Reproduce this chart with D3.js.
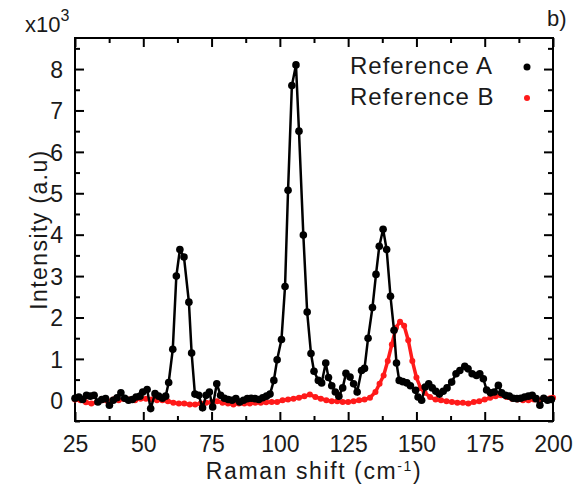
<!DOCTYPE html>
<html>
<head>
<meta charset="utf-8">
<script src="https://cdn.jsdelivr.net/npm/d3@7"></script>
<style>
  body { margin: 0; background: #fff; }
  text { font-family: Arial, "Liberation Sans", sans-serif; fill: #1a1a1a; }
</style>
</head>
<body>
<div id="chart"></div>
<script>
// *******************
// raman spectra, reference A vs reference B
// *******************

// raman shift (cm-1) and intensity (x10^3)
const refAShift = [
  25.0, 26.4, 27.8, 29.2, 30.6, 32.0, 33.4, 34.8, 36.2, 37.6, 39.0, 40.4, 41.8,
  43.2, 44.6, 46.0, 47.4, 48.8, 49.8, 51.4, 52.7, 54.3, 55.6, 57.0, 58.2, 59.3,
  60.8, 62.1, 63.4, 64.9, 66.7, 67.7, 68.9, 70.3, 71.7, 73.0, 74.2, 75.4, 76.9,
  78.3, 79.7, 81.1, 82.5, 83.9, 85.3, 86.7, 88.1, 89.5, 90.9, 92.3, 93.7, 95.1,
  96.4, 97.8, 99.0, 100.6, 101.9, 103.0, 104.4, 105.9, 107.0, 108.6, 110.0,
  111.4, 112.5, 114.1, 115.3, 116.8, 117.8, 119.0, 120.3, 121.6, 123.0, 124.2,
  125.7, 127.0, 128.3, 129.9, 131.0, 132.3, 133.9, 135.2, 136.4, 137.8, 139.1,
  140.5, 141.8, 142.7, 143.7, 145.0, 146.5, 147.8, 149.7, 150.6, 151.9, 153.2,
  154.5, 155.8, 157.1, 158.4, 159.8, 161.2, 162.9, 164.5, 165.9, 167.7, 168.9,
  170.4, 172.0, 173.2, 174.5, 175.7, 177.1, 178.5, 180.0, 181.2, 182.6, 184.0,
  185.4, 186.8, 188.2, 189.6, 191.0, 192.4, 193.8, 195.2, 196.6, 198.0, 199.4
];
const refAIntensity = [
  0.05, 0.08, 0.02, 0.12, 0.10, 0.12, -0.04, 0.02, 0.04, -0.12, 0.00, 0.06, 0.18,
  0.05, 0.00, 0.02, 0.08, 0.10, 0.20, 0.26, -0.20, 0.16, 0.10, 0.05, 0.10, 0.43,
  1.23, 3.00, 3.64, 3.46, 2.37, 1.14, 0.15, 0.12, -0.18, 0.12, 0.20, -0.16, 0.40,
  0.12, 0.05, 0.02, 0.00, 0.04, -0.04, 0.00, 0.04, 0.05, 0.04, 0.02, 0.06, 0.10,
  0.15, 0.48, 0.98, 1.47, 2.75, 5.07, 7.60, 8.10, 6.50, 3.99, 2.13,
  1.13, 0.70, 0.48, 0.42, 0.90, 0.55, 0.35, 0.20, 0.10, 0.30, 0.65,
  0.56, 0.40, 0.20, 0.72, 0.77, 1.50, 2.24, 3.04, 3.72, 4.13, 3.64,
  2.51, 1.69, 0.90, 0.48, 0.45, 0.42, 0.35, 0.24, 0.08, 0.00, 0.32,
  0.40, 0.30, 0.22, 0.15, 0.22, 0.30, 0.44, 0.64, 0.72, 0.82, 0.76,
  0.64, 0.60, 0.64, 0.52, 0.25, 0.18, 0.20, 0.36, 0.18, 0.12, 0.10,
  0.05, 0.04, 0.05, 0.08, 0.10, 0.12, 0.04, -0.12, 0.05, 0.00, 0.02
];

const refBShift = [
  25, 27, 29, 31, 33, 35, 37, 39, 41, 43, 45, 47, 49, 51, 53, 55, 57, 59, 61, 63,
  65, 67, 69, 71, 73, 75, 77, 79, 81, 83, 85, 87, 89, 91, 93, 95, 97, 99, 101,
  103, 105, 107, 109, 111, 113, 115, 117, 119, 121, 123, 125, 127, 129, 131, 133,
  135, 136.5, 138, 139.5, 141, 142.5, 144, 145.5, 147, 148.5, 150, 151.5, 153,
  155, 157, 159, 161, 163, 165, 167, 169, 171, 173, 175, 177, 179, 181, 183, 185,
  187, 189, 191, 193, 195, 197, 199, 200
];
const refBIntensity = [
  0.02, 0.00, -0.05, -0.08, -0.04, 0.00, -0.02, 0.02, 0.00, 0.03, 0.02, 0.00,
  0.04, 0.04, 0.02, 0.00, 0.00, -0.02, -0.06, -0.08, -0.08, -0.10, -0.10, -0.08,
  -0.06, -0.04, -0.02, -0.06, -0.08, -0.10, -0.08, -0.08, -0.08, -0.06, -0.06,
  -0.05, -0.04, -0.04, 0.00, 0.02, 0.04, 0.06, 0.10, 0.14, 0.08, 0.04, 0.00,
  -0.02, -0.02, -0.04, -0.04, -0.02, 0.00, 0.02, 0.06, 0.20, 0.40, 0.60, 0.95,
  1.35, 1.75, 1.90, 1.80, 1.45, 0.95, 0.55, 0.30, 0.18, 0.08, 0.02, 0.00, -0.02,
  -0.04, -0.06, -0.06, -0.08, -0.04, -0.02, 0.02, 0.06, 0.10, 0.12, 0.08, 0.04,
  0.02, 0.00, 0.00, 0.02, 0.00, 0.04, 0.05, 0.06
];

const xTicks = [25, 50, 75, 100, 125, 150, 175, 200];
const yTicks = [0, 1, 2, 3, 4, 5, 6, 7, 8];
const seriesNames = ["Reference A", "Reference B"];
const seriesColors = ["#000000", "#ff1a1a"];

// **1. Layout**
const WIDTH = 578;
const HEIGHT = 494;
const MARGIN = { top: 38, right: 25, bottom: 73, left: 75 };
const TICK = { MAJOR: 9, MINOR: 5 };

const svg = d3
  .select("#chart")
  .append("svg")
  .attr("width", WIDTH)
  .attr("height", HEIGHT);

const x = d3
  .scaleLinear()
  .domain([25, 200])
  .range([MARGIN.left, WIDTH - MARGIN.right]);

const y = d3
  .scaleLinear()
  .domain([-0.5, 8.75])
  .range([HEIGHT - MARGIN.bottom, MARGIN.top]);

const xMinor = d3.range(37.5, 200, 25);
const yMinor = d3.range(-0.5, 8.75, 1);

// **2. Axes, ticks point inward on all four sides**
function drawAxis(axisFn, scale, ticks, size, transform, labels) {
  const g = svg
    .append("g")
    .attr("transform", transform)
    .call(
      axisFn(scale)
        .tickValues(ticks)
        .tickSize(size)
        .tickSizeOuter(0)
        .tickFormat(labels ? d3.format("d") : "")
    );
  g.select(".domain").remove();
  g.selectAll(".tick line").attr("stroke", "#000").attr("stroke-width", 2);
  return g;
}

const bottomY = HEIGHT - MARGIN.bottom;
const rightX = WIDTH - MARGIN.right;

const xAxis = drawAxis(d3.axisBottom, x, xTicks, -TICK.MAJOR, `translate(0,${bottomY})`, true);
drawAxis(d3.axisBottom, x, xMinor, -TICK.MINOR, `translate(0,${bottomY})`, false);
drawAxis(d3.axisTop, x, xTicks, -TICK.MAJOR, `translate(0,${MARGIN.top})`, false);
drawAxis(d3.axisTop, x, xMinor, -TICK.MINOR, `translate(0,${MARGIN.top})`, false);

const yAxis = drawAxis(d3.axisLeft, y, yTicks, -TICK.MAJOR, `translate(${MARGIN.left},0)`, true);
drawAxis(d3.axisLeft, y, yMinor, -TICK.MINOR, `translate(${MARGIN.left},0)`, false);
drawAxis(d3.axisRight, y, yTicks, -TICK.MAJOR, `translate(${rightX},0)`, false);
drawAxis(d3.axisRight, y, yMinor, -TICK.MINOR, `translate(${rightX},0)`, false);

xAxis
  .selectAll(".tick text")
  .attr("y", 15)
  .attr("dy", "0.71em")
  .style("font-size", "23px")
  .style("fill", "#1a1a1a");

yAxis
  .selectAll(".tick text")
  .attr("x", -12)
  .attr("dy", "0.36em")
  .style("font-size", "23px")
  .style("fill", "#1a1a1a");

// frame
svg
  .append("rect")
  .attr("x", MARGIN.left)
  .attr("y", MARGIN.top)
  .attr("width", rightX - MARGIN.left)
  .attr("height", bottomY - MARGIN.top)
  .attr("fill", "none")
  .attr("stroke", "#000")
  .attr("stroke-width", 2);

// **3. Series**
const plot = svg.append("g").attr("class", "plot");

const line = d3
  .line()
  .x((d) => x(d[0]))
  .y((d) => y(d[1]));

const refB = d3.zip(refBShift, refBIntensity);
const refA = d3.zip(refAShift, refAIntensity);

plot
  .append("path")
  .datum(refB)
  .attr("d", line)
  .attr("fill", "none")
  .attr("stroke", seriesColors[1])
  .attr("stroke-width", 3.5);

plot
  .selectAll("circle.refB")
  .data(refB)
  .enter()
  .append("circle")
  .attr("class", "refB")
  .attr("cx", (d) => x(d[0]))
  .attr("cy", (d) => y(d[1]))
  .attr("r", 3)
  .attr("fill", seriesColors[1]);

plot
  .append("path")
  .datum(refA)
  .attr("d", line)
  .attr("fill", "none")
  .attr("stroke", seriesColors[0])
  .attr("stroke-width", 2.5);

plot
  .selectAll("circle.refA")
  .data(refA)
  .enter()
  .append("circle")
  .attr("class", "refA")
  .attr("cx", (d) => x(d[0]))
  .attr("cy", (d) => y(d[1]))
  .attr("r", 3.8)
  .attr("fill", seriesColors[0]);

// **4. Legend**
const legend = svg
  .append("g")
  .selectAll("g")
  .data(seriesNames)
  .enter()
  .append("g")
  .attr("transform", (d, i) => `translate(350,${74 + i * 31})`);

legend
  .append("text")
  .text((d) => d)
  .style("font-size", "24px")
  .style("letter-spacing", "1px");

legend
  .append("circle")
  .attr("cx", 177)
  .attr("cy", -7)
  .attr("r", (d, i) => (i === 0 ? 3.5 : 3))
  .attr("fill", (d, i) => seriesColors[i]);

// **5. Titles**
const xTitle = svg
  .append("text")
  .attr("x", (MARGIN.left + rightX) / 2)
  .attr("y", 479)
  .attr("text-anchor", "middle")
  .style("font-size", "23px")
  .style("letter-spacing", "1.6px");
xTitle.append("tspan").text("Raman shift (cm");
xTitle.append("tspan").attr("dy", -8).style("font-size", "14px").text("-1");
xTitle.append("tspan").attr("dy", 8).text(")");

svg
  .append("text")
  .attr("transform", `translate(47,${(MARGIN.top + bottomY) / 2}) rotate(-90)`)
  .attr("text-anchor", "middle")
  .style("font-size", "23px")
  .style("letter-spacing", "1.4px")
  .text("Intensity (a.u)");

const scaleLabel = svg
  .append("text")
  .attr("x", 25)
  .attr("y", 32)
  .style("font-size", "22px");
scaleLabel.append("tspan").text("x10");
scaleLabel.append("tspan").attr("dy", -11).style("font-size", "16px").text("3");

svg
  .append("text")
  .attr("x", 547)
  .attr("y", 26)
  .style("font-size", "22px")
  .text("b)");
</script>
</body>
</html>
